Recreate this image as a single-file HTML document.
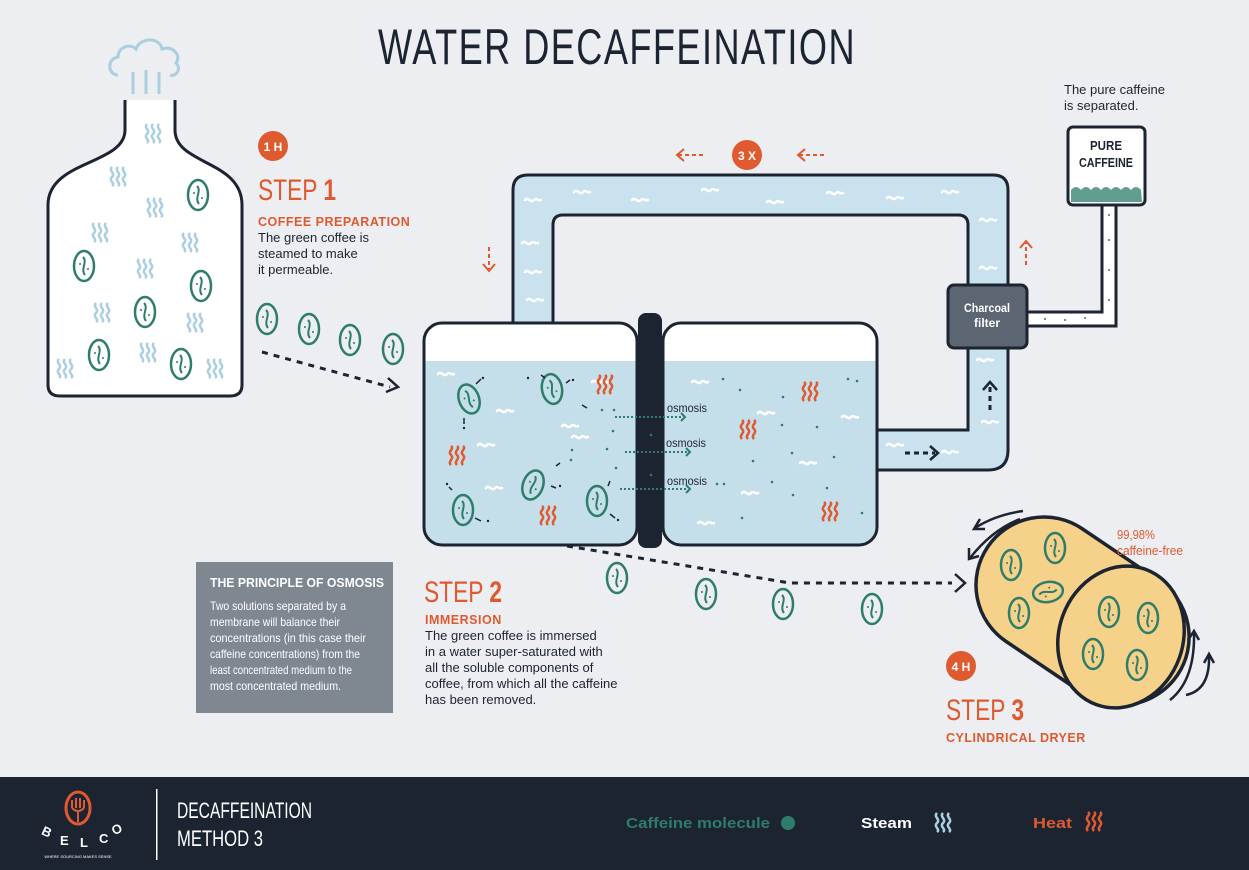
<!DOCTYPE html>
<html><head><meta charset="utf-8"><style>
html,body{margin:0;padding:0;background:#eceef1;}
svg{display:block;font-family:"Liberation Sans",sans-serif;}
</style></head><body>
<svg width="1249" height="870" viewBox="0 0 1249 870" xmlns="http://www.w3.org/2000/svg">
<defs>
<g id="bean"><ellipse cx="0" cy="0" rx="10" ry="15" fill="none" stroke="#2e7d6b" stroke-width="2.5"/><path d="M-1,-9 C4,-4 -4,3 1,9" fill="none" stroke="#2e7d6b" stroke-width="2"/><circle cx="-4" cy="-2" r="1" fill="#2e7d6b"/><circle cx="4" cy="3" r="1" fill="#2e7d6b"/></g>
<g id="steam" fill="none" stroke="#a9cfe0" stroke-width="2.5"><path d="M-6,-9 c-4,4 4,6 0,10 c-4,4 4,6 0,9"/><path d="M0,-9 c-4,4 4,6 0,10 c-4,4 4,6 0,9"/><path d="M6,-9 c-4,4 4,6 0,10 c-4,4 4,6 0,9"/></g>
<g id="heat" fill="none" stroke="#e05a30" stroke-width="2.5"><path d="M-6,9 c-4,-4 4,-6 0,-10 c-4,-4 4,-6 0,-9"/><path d="M0,9 c-4,-4 4,-6 0,-10 c-4,-4 4,-6 0,-9"/><path d="M6,9 c-4,-4 4,-6 0,-10 c-4,-4 4,-6 0,-9"/></g>
<g id="wb"><path d="M-8,0 c3,-4 6,4 9,0 c2,-3 5,2 7,0" fill="none" stroke="#fff" stroke-width="2.5" stroke-linecap="round"/></g>
</defs>

<text x="617" y="64" text-anchor="middle" font-size="50" fill="#1c2431" textLength="478" lengthAdjust="spacingAndGlyphs" letter-spacing="2">WATER DECAFFEINATION</text>

<path d="M118,75 c-10,0 -12,-16 0,-18 c0,-10 12,-14 18,-8 c4,-12 24,-12 26,0 c10,-4 20,6 14,14 c6,6 0,14 -6,12" fill="none" stroke="#a9cfe0" stroke-width="3"/>
<path d="M133,72 v22 M146,70 v24 M159,72 v22" stroke="#a9cfe0" stroke-width="3"/>
<path d="M125,100 L125,130 C125,165 48,160 48,205 L48,385 Q48,396 60,396 L230,396 Q242,396 242,385 L242,205 C242,160 175,165 175,130 L175,100" fill="#fff" stroke="#1c2431" stroke-width="3"/>
<g>
<use href="#steam" x="153" y="133"/><use href="#steam" x="118" y="176"/><use href="#steam" x="155" y="207"/><use href="#steam" x="100" y="232"/>
<use href="#steam" x="190" y="242"/><use href="#steam" x="145" y="268"/><use href="#steam" x="102" y="312"/><use href="#steam" x="195" y="322"/>
<use href="#steam" x="148" y="352"/><use href="#steam" x="65" y="368"/><use href="#steam" x="215" y="368"/>
<use href="#bean" x="198" y="195"/><use href="#bean" x="84" y="266"/><use href="#bean" x="201" y="286"/><use href="#bean" x="145" y="312"/><use href="#bean" x="99" y="355"/><use href="#bean" x="181" y="364"/>
</g>
<use href="#bean" x="267" y="319"/><use href="#bean" x="309" y="329"/><use href="#bean" x="350" y="340"/><use href="#bean" x="393" y="349"/>
<path d="M262,352 L390,387" stroke="#1c2431" stroke-width="3" stroke-dasharray="6,6"/>
<path d="M388,378 l10,9 l-12,5" fill="none" stroke="#1c2431" stroke-width="2.5"/>

<circle cx="273" cy="146" r="15" fill="#e05a30"/><text x="273" y="151" text-anchor="middle" font-size="12" font-weight="bold" fill="#fff">1 H</text>
<text x="258" y="200" font-size="30" fill="#e05a30" textLength="78" lengthAdjust="spacingAndGlyphs">STEP <tspan font-weight="bold">1</tspan></text>
<text x="258" y="226" font-size="12.5" font-weight="bold" fill="#e05a30" letter-spacing="0.5">COFFEE PREPARATION</text>
<text font-size="13" fill="#1c2431"><tspan x="258" y="242">The green coffee is</tspan><tspan x="258" y="258">steamed to make</tspan><tspan x="258" y="274">it permeable.</tspan></text>

<path d="M513,325 L513,190 Q513,175 528,175 L993,175 Q1008,175 1008,190 L1008,450 Q1008,470 988,470 L877,470 L877,430 L968,430 L968,225 Q968,215 958,215 L563,215 Q553,215 553,225 L553,325 Z" fill="#c9e2ee" stroke="#1c2431" stroke-width="3"/>
<g>
<use href="#wb" x="533" y="200"/><use href="#wb" x="530" y="243"/><use href="#wb" x="533" y="272"/><use href="#wb" x="535" y="300"/>
<use href="#wb" x="582" y="192"/><use href="#wb" x="640" y="200"/><use href="#wb" x="710" y="190"/><use href="#wb" x="775" y="202"/><use href="#wb" x="835" y="193"/><use href="#wb" x="895" y="198"/><use href="#wb" x="950" y="192"/>
<use href="#wb" x="988" y="220"/><use href="#wb" x="988" y="268"/><use href="#wb" x="985" y="360"/><use href="#wb" x="990" y="422"/><use href="#wb" x="950" y="452"/><use href="#wb" x="895" y="445"/>
</g>
<g stroke="#e05a30" stroke-width="2" fill="none">
<path d="M489,247 v22" stroke-dasharray="4,3"/><path d="M483,264 l6,7 l6,-7"/>
<path d="M678,155 h26" stroke-dasharray="4,3"/><path d="M684,149 l-7,6 l7,6"/>
<path d="M799,155 h26" stroke-dasharray="4,3"/><path d="M805,149 l-7,6 l7,6"/>
<path d="M1026,265 v-22" stroke-dasharray="4,3"/><path d="M1020,248 l6,-7 l6,7"/>
</g>
<circle cx="747" cy="155" r="15" fill="#e05a30"/><text x="747" y="160" text-anchor="middle" font-size="12" font-weight="bold" fill="#fff">3 X</text>
<g stroke="#1c2431" stroke-width="3" fill="none">
<path d="M990,410 v-24" stroke-dasharray="5,4"/><path d="M983,390 l7,-8 l7,8" stroke-width="2.5"/>
<path d="M905,453 h30" stroke-dasharray="5,4"/><path d="M930,446 l8,7 l-8,7" stroke-width="2.5"/>
</g>

<path d="M1027,312 L1102,312 L1102,205 L1116,205 L1116,326 L1027,326 Z" fill="#fff" stroke="#1c2431" stroke-width="3"/>
<g fill="#2e7d6b"><circle cx="1045" cy="319" r="1"/><circle cx="1065" cy="320" r="1"/><circle cx="1085" cy="318" r="1"/><circle cx="1109" cy="300" r="1"/><circle cx="1109" cy="270" r="1"/><circle cx="1109" cy="240" r="1"/><circle cx="1109" cy="215" r="1"/></g>
<rect x="948" y="285" width="79" height="63" rx="6" fill="#5c6672" stroke="#1c2431" stroke-width="3"/>
<text x="987" y="312" text-anchor="middle" font-size="12" fill="#fff" font-weight="bold" textLength="46" lengthAdjust="spacingAndGlyphs">Charcoal</text>
<text x="987" y="327" text-anchor="middle" font-size="12" fill="#fff" font-weight="bold">filter</text>

<text font-size="13" fill="#1c2431"><tspan x="1064" y="94">The pure caffeine</tspan><tspan x="1064" y="110">is separated.</tspan></text>
<rect x="1068" y="127" width="77" height="78" rx="5" fill="#fff" stroke="#1c2431" stroke-width="3"/>
<text x="1106" y="150" text-anchor="middle" font-size="13" font-weight="bold" fill="#1c2431" textLength="32" lengthAdjust="spacingAndGlyphs">PURE</text>
<text x="1106" y="167" text-anchor="middle" font-size="13" font-weight="bold" fill="#1c2431" textLength="54" lengthAdjust="spacingAndGlyphs">CAFFEINE</text>
<path d="M1071,190 q5,-6 10,0 q5,-6 10,0 q5,-6 10,0 q5,-6 10,0 q5,-6 10,0 q5,-6 10,0 q5,-6 10,0 L1142,202 L1071,202 Z" fill="#2e7d6b" opacity="0.75"/>

<rect x="424" y="323" width="213" height="222" rx="18" fill="#fff"/>
<path d="M425.5,361 L635.5,361 L635.5,526 Q635.5,543.5 618,543.5 L443,543.5 Q425.5,543.5 425.5,526 Z" fill="#c5dfea"/>
<rect x="424" y="323" width="213" height="222" rx="18" fill="none" stroke="#1c2431" stroke-width="3"/>
<rect x="663" y="323" width="214" height="222" rx="18" fill="#fff"/>
<path d="M664.5,361 L875.5,361 L875.5,526 Q875.5,543.5 858,543.5 L682,543.5 Q664.5,543.5 664.5,526 Z" fill="#c5dfea"/>
<rect x="663" y="323" width="214" height="222" rx="18" fill="none" stroke="#1c2431" stroke-width="3"/>
<rect x="638" y="313" width="24" height="235" rx="8" fill="#1c2431"/>
<g>
<use href="#wb" x="446" y="374"/><use href="#wb" x="505" y="411"/><use href="#wb" x="486" y="445"/><use href="#wb" x="570" y="426"/><use href="#wb" x="580" y="437"/><use href="#wb" x="494" y="488"/>
<use href="#wb" x="600" y="382"/><use href="#wb" x="700" y="382"/><use href="#wb" x="766" y="413"/><use href="#wb" x="850" y="417"/><use href="#wb" x="808" y="463"/><use href="#wb" x="750" y="493"/><use href="#wb" x="706" y="523"/>
<use href="#heat" x="605" y="385"/><use href="#heat" x="457" y="456"/><use href="#heat" x="548" y="516"/><use href="#heat" x="748" y="430"/><use href="#heat" x="810" y="392"/><use href="#heat" x="830" y="512"/>
</g>
<g transform="rotate(-20 469 399)"><use href="#bean" x="469" y="399"/></g>
<g transform="rotate(-10 552 389)"><use href="#bean" x="552" y="389"/></g>
<g transform="rotate(20 533 485)"><use href="#bean" x="533" y="485"/></g>
<use href="#bean" x="463" y="510"/><use href="#bean" x="597" y="501"/>
<g fill="#2e7d6b"><circle cx="602" cy="410" r="1.3"/><circle cx="614" cy="410" r="1.3"/><circle cx="613" cy="431" r="1.3"/><circle cx="607" cy="449" r="1.3"/><circle cx="571" cy="460" r="1.3"/><circle cx="616" cy="468" r="1.3"/><circle cx="572" cy="450" r="1.3"/><circle cx="651" cy="435" r="1.3"/><circle cx="651" cy="475" r="1.3"/><circle cx="723" cy="379" r="1.3"/><circle cx="740" cy="390" r="1.3"/><circle cx="783" cy="397" r="1.3"/><circle cx="848" cy="379" r="1.3"/><circle cx="857" cy="381" r="1.3"/><circle cx="782" cy="425" r="1.3"/><circle cx="817" cy="427" r="1.3"/><circle cx="753" cy="461" r="1.3"/><circle cx="792" cy="453" r="1.3"/><circle cx="834" cy="457" r="1.3"/><circle cx="724" cy="484" r="1.3"/><circle cx="772" cy="482" r="1.3"/><circle cx="793" cy="495" r="1.3"/><circle cx="827" cy="488" r="1.3"/><circle cx="742" cy="518" r="1.3"/><circle cx="862" cy="513" r="1.3"/><circle cx="717" cy="484" r="1.3"/></g>
<g stroke="#2e7d6b" stroke-width="2" fill="none">
<path d="M615,417 h68" stroke-dasharray="2,2"/><path d="M681,413 l4,4 l-4,4"/>
<path d="M625,452 h63" stroke-dasharray="2,2"/><path d="M686,448 l4,4 l-4,4"/>
<path d="M620,489 h68" stroke-dasharray="2,2"/><path d="M686,485 l4,4 l-4,4"/>
</g>
<g font-size="12" fill="#1c2431"><text x="667" y="412" textLength="40" lengthAdjust="spacingAndGlyphs">osmosis</text><text x="666" y="447" textLength="40" lengthAdjust="spacingAndGlyphs">osmosis</text><text x="667" y="485" textLength="40" lengthAdjust="spacingAndGlyphs">osmosis</text></g>
<g stroke="#1c2431" stroke-width="1.5" fill="none">
<path d="M476,384 l5,-5"/><path d="M464,418 v6"/><path d="M545,378 l-4,-3"/><path d="M566,383 l4,-3"/><path d="M582,405 l5,3"/><path d="M551,486 l5,2"/><path d="M556,466 l4,-3"/><path d="M452,490 l-3,-3"/><path d="M475,518 l6,3"/><path d="M608,486 l2,-5"/><path d="M610,514 l5,4"/>
</g>
<g fill="#1c2431"><circle cx="483" cy="378" r="1.2"/><circle cx="464" cy="428" r="1.2"/><circle cx="528" cy="378" r="1.2"/><circle cx="573" cy="380" r="1.2"/><circle cx="560" cy="486" r="1.2"/><circle cx="488" cy="521" r="1.2"/><circle cx="447" cy="484" r="1.2"/><circle cx="618" cy="520" r="1.2"/></g>

<use href="#bean" x="617" y="578"/><use href="#bean" x="706" y="594"/><use href="#bean" x="783" y="604"/><use href="#bean" x="872" y="609"/>
<path d="M567,546 L790,583 L952,583" fill="none" stroke="#1c2431" stroke-width="3" stroke-dasharray="6,6"/>
<path d="M955,574 l10,9 l-10,9" fill="none" stroke="#1c2431" stroke-width="2.5"/>

<text x="424" y="602" font-size="30" fill="#e05a30" textLength="78" lengthAdjust="spacingAndGlyphs">STEP <tspan font-weight="bold">2</tspan></text>
<text x="425" y="624" font-size="12.5" font-weight="bold" fill="#e05a30" letter-spacing="0.5">IMMERSION</text>
<text font-size="13" fill="#1c2431"><tspan x="425" y="640">The green coffee is immersed</tspan><tspan x="425" y="656">in a water super-saturated with</tspan><tspan x="425" y="672">all the soluble components of</tspan><tspan x="425" y="688">coffee, from which all the caffeine</tspan><tspan x="425" y="704">has been removed.</tspan></text>

<rect x="196" y="562" width="197" height="151" fill="#7f8791"/>
<text x="210" y="587" font-size="13" font-weight="bold" fill="#fff" textLength="174" lengthAdjust="spacingAndGlyphs">THE PRINCIPLE OF OSMOSIS</text>
<g font-size="12" fill="#fff"><text x="210" y="610" textLength="136" lengthAdjust="spacingAndGlyphs">Two solutions separated by a</text><text x="210" y="626" textLength="130" lengthAdjust="spacingAndGlyphs">membrane will balance their</text><text x="210" y="642" textLength="156" lengthAdjust="spacingAndGlyphs">concentrations (in this case their</text><text x="210" y="658" textLength="150" lengthAdjust="spacingAndGlyphs">caffeine concentrations) from the</text><text x="210" y="674" textLength="142" lengthAdjust="spacingAndGlyphs">least concentrated medium to the</text><text x="210" y="690" textLength="131" lengthAdjust="spacingAndGlyphs">most concentrated medium.</text></g>

<!-- dryer -->
<g transform="translate(1044,585) rotate(34)">
<rect x="-68" y="-68" width="229" height="136" rx="68" fill="#f5d18a" stroke="#1c2431" stroke-width="3.5"/>
</g>
<g transform="rotate(20 1121 637)"><ellipse cx="1121" cy="637" rx="62" ry="72" fill="#f5d18a" stroke="#1c2431" stroke-width="3.5"/></g>
<use href="#bean" x="1011" y="565"/><use href="#bean" x="1055" y="548"/><g transform="rotate(80 1048 592)"><use href="#bean" x="1048" y="592"/></g><use href="#bean" x="1019" y="613"/>
<use href="#bean" x="1109" y="612"/><use href="#bean" x="1148" y="618"/><use href="#bean" x="1093" y="654"/><use href="#bean" x="1137" y="665"/>
<g fill="none" stroke="#1c2431" stroke-width="2.5">
<path d="M1023,511 Q995,515 975,528"/><path d="M980,519 l-6,10 l11,0"/><path d="M1020,519 Q992,530 970,558"/><path d="M969,548 l0,11 l10,-3"/>
<path d="M1170,700 Q1195,680 1194,633"/><path d="M1188,640 l6,-9 l5,9"/><path d="M1186,695 Q1210,690 1209,656"/><path d="M1204,663 l5,-9 l5,9"/>
</g>
<text x="1117" y="539" font-size="13" fill="#e05a30" textLength="38" lengthAdjust="spacingAndGlyphs">99,98%</text>
<text x="1117" y="555" font-size="13" fill="#e05a30" textLength="66" lengthAdjust="spacingAndGlyphs">caffeine-free</text>

<circle cx="961" cy="666" r="15" fill="#e05a30"/><text x="961" y="671" text-anchor="middle" font-size="12" font-weight="bold" fill="#fff">4 H</text>
<text x="946" y="720" font-size="30" fill="#e05a30" textLength="78" lengthAdjust="spacingAndGlyphs">STEP <tspan font-weight="bold">3</tspan></text>
<text x="946" y="742" font-size="12.5" font-weight="bold" fill="#e05a30" letter-spacing="0.5">CYLINDRICAL DRYER</text>

<rect x="0" y="777" width="1249" height="93" fill="#1c2431"/>
<ellipse cx="78" cy="808" rx="12" ry="16" fill="none" stroke="#e05a30" stroke-width="3"/>
<path d="M72,800 v8 M76,798 v10 M80,798 v10 M84,800 v8 M72,808 q6,6 12,0 M78,812 v10" stroke="#e05a30" stroke-width="2" fill="none"/>
<g font-size="13" font-weight="bold" fill="#fff"><text x="42" y="836" transform="rotate(25 46 832)">B</text><text x="60" y="845">E</text><text x="80" y="847">L</text><text x="99" y="843">C</text><text x="112" y="834" transform="rotate(-25 116 830)">O</text></g>
<text x="78" y="858" text-anchor="middle" font-size="4" fill="#fff">WHERE SOURCING MAKES SENSE</text>
<rect x="156" y="789" width="1.5" height="71" fill="#fff"/>
<text x="177" y="818" font-size="22" fill="#fff" textLength="135" lengthAdjust="spacingAndGlyphs">DECAFFEINATION</text>
<text x="177" y="846" font-size="22" fill="#fff" textLength="86" lengthAdjust="spacingAndGlyphs">METHOD 3</text>
<text x="626" y="828" font-size="15" font-weight="bold" fill="#2e7d6b" textLength="144" lengthAdjust="spacingAndGlyphs">Caffeine molecule</text>
<circle cx="788" cy="823" r="7" fill="#2e7d6b"/>
<text x="861" y="828" font-size="15" font-weight="bold" fill="#fff" textLength="51" lengthAdjust="spacingAndGlyphs">Steam</text>
<use href="#steam" x="943" y="822"/>
<text x="1033" y="828" font-size="15" font-weight="bold" fill="#e05a30" textLength="39" lengthAdjust="spacingAndGlyphs">Heat</text>
<use href="#heat" x="1094" y="822"/>
</svg>
</body></html>
